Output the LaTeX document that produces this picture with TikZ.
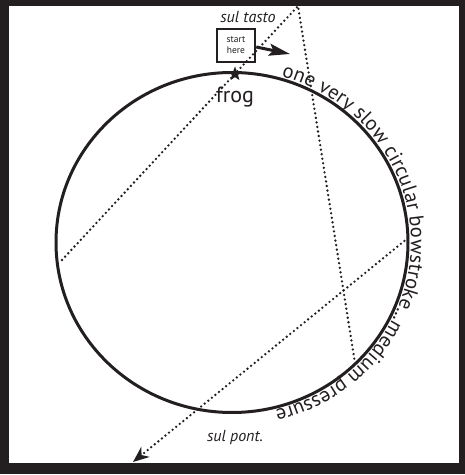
\documentclass[tikz,border=0pt]{standalone}
\usepackage{fontspec}
\setmainfont{PT Sans}
\usetikzlibrary{arrows.meta,shapes.geometric,decorations.text}
\definecolor{ink}{HTML}{231F20}

\begin{document}
\begin{tikzpicture}[x=1pt,y=1pt,>=Stealth,color=ink,
  dots/.style={line width=2.6pt,line cap=round,dash pattern=on 0pt off 4.6pt},
  lbl/.style={font=\fontsize{16}{16}\selectfont\itshape,inner sep=0pt}]
\useasboundingbox (0,0) rectangle (465,475);
\fill[ink] (0,1) rectangle (465,475);
\fill[white] (9,12) rectangle (459,469);
% the bow circle
\coordinate (mid) at (232,232.5);
\draw[line width=3pt] (mid) ellipse [x radius=176,y radius=170];
\path[decorate,decoration={text along path,raise=3pt,text align={left indent=0pt},
  text={|\fontsize{20.5}{20.5}\selectfont\color{ink}|one very slow circular bowstroke...medium pressure}}]
  ([shift={(74:176 and 170)}]mid) arc[start angle=74,end angle=-130,x radius=176,y radius=170];
% labels
\node[star,star points=5,star point ratio=2.4,fill=ink,minimum size=15pt,inner sep=0pt] (star) at (235,401) {};
\node[font=\fontsize{22}{22}\selectfont] (frog) at (235,378) {frog};
\node[draw=ink,fill=white,line width=2.4pt,minimum width=38pt,minimum height=33pt,inner sep=0pt,align=center,
  font=\fontsize{9.5}{11}\selectfont] (box) at (236,429.5) {start\\here};
\node[lbl] (tasto) at (248,458) {sul tasto};
\node[lbl] (pont) at (235,38) {sul pont.};
% bow path
\coordinate (apex) at (298,469);
\coordinate (lft) at (62,215);
\coordinate (btm) at (355,112);
\coordinate (rgt) at (408,237);
\coordinate (tip) at (133,13);
\coordinate (push) at (290,421);
\draw[dots] (lft) -- (apex) -- (btm);
\draw[dots,-{Stealth[length=16pt,width=13pt,inset=5pt]}] (rgt) -- (tip);
\draw[line width=3pt,-{Stealth[length=21pt,width=12pt,inset=4pt]}] ([yshift=-1.5pt]box.east) -- (push);
\end{tikzpicture}
\end{document}
